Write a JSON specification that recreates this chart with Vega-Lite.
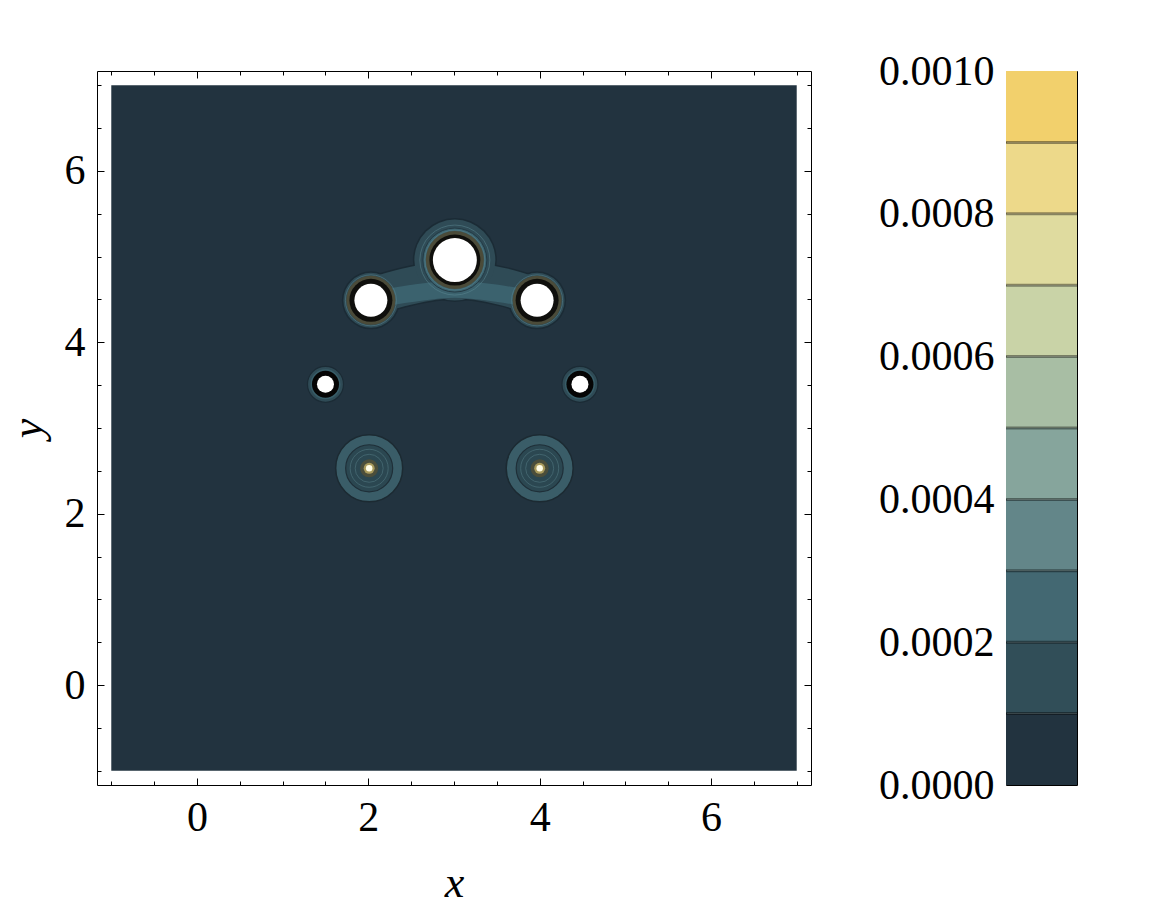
{
  "$schema": "https://vega.github.io/schema/vega-lite/v6.json",
  "background": "white",
  "padding": {"left": 5, "top": 49, "right": 10, "bottom": 5},
  "config": {
    "view": {"stroke": "black", "strokeWidth": 1},
    "font": "Liberation Serif",
    "axis": {
      "labelFont": "Liberation Serif", "labelFontSize": 42, "labelColor": "black",
      "titleFont": "Liberation Serif", "titleFontSize": 44, "titleFontStyle": "italic",
      "titleFontWeight": "normal", "titleColor": "black", "grid": false, "domain": false
    }
  },
  "datasets": {
    "bg": [{"x": -1, "x2": 7, "y": -1, "y2": 7}],
    "spots": [
      {"k": "center", "x": 3.01, "y": 4.96},
      {"k": "side", "x": 2.03, "y": 4.49},
      {"k": "side", "x": 3.97, "y": 4.49},
      {"k": "small", "x": 1.5, "y": 3.51},
      {"k": "small", "x": 4.47, "y": 3.51},
      {"k": "ring", "x": 2.01, "y": 2.53},
      {"k": "ring", "x": 4.0, "y": 2.53}
    ],
    "arch": [
      {"b": "outer", "x": 2.03, "y": 4.53},
      {"b": "outer", "x": 2.45, "y": 4.65},
      {"b": "outer", "x": 3.01, "y": 4.73},
      {"b": "outer", "x": 3.57, "y": 4.65},
      {"b": "outer", "x": 3.97, "y": 4.53},
      {"b": "inner", "x": 2.03, "y": 4.49},
      {"b": "inner", "x": 2.5, "y": 4.57},
      {"b": "inner", "x": 3.01, "y": 4.62},
      {"b": "inner", "x": 3.52, "y": 4.57},
      {"b": "inner", "x": 3.97, "y": 4.49}
    ],
    "bands": [
      {"lo": 0.0000, "hi": 0.0001},
      {"lo": 0.0001, "hi": 0.0002},
      {"lo": 0.0002, "hi": 0.0003},
      {"lo": 0.0003, "hi": 0.0004},
      {"lo": 0.0004, "hi": 0.0005},
      {"lo": 0.0005, "hi": 0.0006},
      {"lo": 0.0006, "hi": 0.0007},
      {"lo": 0.0007, "hi": 0.0008},
      {"lo": 0.0008, "hi": 0.0009},
      {"lo": 0.0009, "hi": 0.0010}
    ]
  },
  "spacing": 66,
  "hconcat": [
    {
      "width": 714,
      "height": 714,
      "resolve": {"axis": {"x": "independent", "y": "independent"}},
      "encoding": {
        "x": {"field": "x", "type": "quantitative", "scale": {"domain": [-1.1667, 7.1667], "nice": false, "zero": false}, "axis": null},
        "y": {"field": "y", "type": "quantitative", "scale": {"domain": [-1.1667, 7.1667], "nice": false, "zero": false}, "axis": null}
      },
      "layer": [
        {
          "data": {"name": "bg"},
          "mark": {"type": "rect", "fill": "#22333F"},
          "encoding": {
            "x": {"field": "x", "type": "quantitative", "scale": {"domain": [-1.1667, 7.1667], "nice": false, "zero": false},
              "axis": {"orient": "bottom", "values": [0, 2, 4, 6], "ticks": false, "labelPadding": 12, "title": "x", "titlePadding": 23, "zindex": 1}},
            "y": {"field": "y", "type": "quantitative", "scale": {"domain": [-1.1667, 7.1667], "nice": false, "zero": false},
              "axis": {"orient": "left", "values": [0, 2, 4, 6], "ticks": false, "labelPadding": 12, "title": "y", "titlePadding": 14, "zindex": 1}},
            "x2": {"field": "x2"},
            "y2": {"field": "y2"}
          }
        },
        {
          "data": {"name": "spots"},
          "transform": [{"filter": "datum.k == 'ring'"}],
          "mark": {"type": "circle", "size": 4489, "fill": "#3A5D68", "stroke": "#1C2A32", "strokeWidth": 1.5, "opacity": 1},
          "encoding": {
            "x": {"field": "x", "type": "quantitative", "scale": {"domain": [-1.1667, 7.1667], "nice": false, "zero": false},
              "axis": {"orient": "bottom", "values": [0, 2, 4, 6], "labels": false, "ticks": true, "tickSize": -7, "tickColor": "black", "title": null, "zindex": 1}},
            "y": {"field": "y", "type": "quantitative", "scale": {"domain": [-1.1667, 7.1667], "nice": false, "zero": false},
              "axis": {"orient": "left", "values": [0, 2, 4, 6], "labels": false, "ticks": true, "tickSize": -7, "tickColor": "black", "title": null, "zindex": 1}}
          }
        },
        {
          "data": {"name": "spots"},
          "transform": [{"filter": "datum.k == 'ring'"}],
          "mark": {"type": "circle", "size": 2209, "fill": "#2B4751", "stroke": "#1F2F38", "strokeWidth": 1.2, "opacity": 1},
          "encoding": {
            "x": {"field": "x", "type": "quantitative", "scale": {"domain": [-1.1667, 7.1667], "nice": false, "zero": false},
              "axis": {"orient": "bottom", "values": [-1, -0.5, 0.5, 1, 1.5, 2.5, 3, 3.5, 4.5, 5, 5.5, 6.5, 7], "labels": false, "ticks": true, "tickSize": -4, "tickColor": "black", "title": null, "zindex": 1}},
            "y": {"field": "y", "type": "quantitative", "scale": {"domain": [-1.1667, 7.1667], "nice": false, "zero": false},
              "axis": {"orient": "left", "values": [-1, -0.5, 0.5, 1, 1.5, 2.5, 3, 3.5, 4.5, 5, 5.5, 6.5, 7], "labels": false, "ticks": true, "tickSize": -4, "tickColor": "black", "title": null, "zindex": 1}}
          }
        },
        {
          "data": {"name": "spots"},
          "transform": [{"filter": "datum.k == 'ring'"}],
          "mark": {"type": "point", "filled": false, "size": 1444, "stroke": "#5B848D", "strokeWidth": 0.8, "opacity": 0.6},
          "encoding": {
            "x": {"field": "x", "type": "quantitative", "scale": {"domain": [-1.1667, 7.1667], "nice": false, "zero": false},
              "axis": {"orient": "top", "values": [0, 2, 4, 6], "labels": false, "ticks": true, "tickSize": -7, "tickColor": "black", "title": null, "zindex": 1}},
            "y": {"field": "y", "type": "quantitative", "scale": {"domain": [-1.1667, 7.1667], "nice": false, "zero": false},
              "axis": {"orient": "right", "values": [0, 2, 4, 6], "labels": false, "ticks": true, "tickSize": -7, "tickColor": "black", "title": null, "zindex": 1}}
          }
        },
        {
          "data": {"name": "spots"},
          "transform": [{"filter": "datum.k == 'ring'"}],
          "mark": {"type": "point", "filled": false, "size": 784, "stroke": "#5B848D", "strokeWidth": 0.8, "opacity": 0.6},
          "encoding": {
            "x": {"field": "x", "type": "quantitative", "scale": {"domain": [-1.1667, 7.1667], "nice": false, "zero": false},
              "axis": {"orient": "top", "values": [-1, -0.5, 0.5, 1, 1.5, 2.5, 3, 3.5, 4.5, 5, 5.5, 6.5, 7], "labels": false, "ticks": true, "tickSize": -4, "tickColor": "black", "title": null, "zindex": 1}},
            "y": {"field": "y", "type": "quantitative", "scale": {"domain": [-1.1667, 7.1667], "nice": false, "zero": false},
              "axis": {"orient": "right", "values": [-1, -0.5, 0.5, 1, 1.5, 2.5, 3, 3.5, 4.5, 5, 5.5, 6.5, 7], "labels": false, "ticks": true, "tickSize": -4, "tickColor": "black", "title": null, "zindex": 1}}
          }
        },
        {"data": {"name": "spots"}, "transform": [{"filter": "datum.k == 'ring'"}],
          "mark": {"type": "circle", "size": 324, "fill": "#4F4F38", "opacity": 0.9}},
        {"data": {"name": "spots"}, "transform": [{"filter": "datum.k == 'ring'"}],
          "mark": {"type": "circle", "size": 121, "fill": "#A89A5C", "opacity": 1}},
        {"data": {"name": "spots"}, "transform": [{"filter": "datum.k == 'ring'"}],
          "mark": {"type": "circle", "size": 42, "fill": "#FFFCE6", "opacity": 1}},
        {"data": {"name": "arch"}, "transform": [{"filter": "datum.b == 'outer'"}],
          "mark": {"type": "line", "color": "#1B2B35", "strokeWidth": 40, "strokeCap": "round", "strokeJoin": "round", "interpolate": "monotone"}},
        {"data": {"name": "spots"}, "transform": [{"filter": "datum.k == 'center'"}],
          "mark": {"type": "circle", "size": 7056, "fill": "#1B2B35", "opacity": 1}},
        {"data": {"name": "spots"}, "transform": [{"filter": "datum.k == 'side'"}],
          "mark": {"type": "circle", "size": 3364, "fill": "#1B2B35", "opacity": 1}},
        {"data": {"name": "arch"}, "transform": [{"filter": "datum.b == 'outer'"}],
          "mark": {"type": "line", "color": "#2F4B56", "strokeWidth": 37, "strokeCap": "round", "strokeJoin": "round", "interpolate": "monotone"}},
        {"data": {"name": "spots"}, "transform": [{"filter": "datum.k == 'center'"}],
          "mark": {"type": "circle", "size": 6561, "fill": "#2F4B56", "opacity": 1}},
        {"data": {"name": "spots"}, "transform": [{"filter": "datum.k == 'side'"}],
          "mark": {"type": "circle", "size": 3025, "fill": "#2F4B56", "opacity": 1}},
        {"data": {"name": "arch"}, "transform": [{"filter": "datum.b == 'inner'"}],
          "mark": {"type": "line", "color": "#3B626E", "strokeWidth": 17, "strokeCap": "round", "strokeJoin": "round", "interpolate": "monotone"}},
        {"data": {"name": "spots"}, "transform": [{"filter": "datum.k == 'center'"}],
          "mark": {"type": "circle", "size": 4096, "fill": "#3B626E", "stroke": "#243A44", "strokeWidth": 1, "opacity": 1}},
        {"data": {"name": "spots"}, "transform": [{"filter": "datum.k == 'side'"}],
          "mark": {"type": "circle", "size": 2209, "fill": "#3B626E", "opacity": 1}},
        {"data": {"name": "spots"}, "transform": [{"filter": "datum.k == 'center'"}],
          "mark": {"type": "point", "filled": false, "size": 4900, "stroke": "#5E8B95", "strokeWidth": 0.8, "opacity": 0.6}},
        {"data": {"name": "spots"}, "transform": [{"filter": "datum.k == 'center'"}],
          "mark": {"type": "point", "filled": false, "size": 3600, "stroke": "#5E8B95", "strokeWidth": 0.8, "opacity": 0.6}},
        {"data": {"name": "spots"}, "transform": [{"filter": "datum.k == 'side'"}],
          "mark": {"type": "point", "filled": false, "size": 2601, "stroke": "#5E8B95", "strokeWidth": 0.8, "opacity": 0.6}},
        {"data": {"name": "spots"}, "transform": [{"filter": "datum.k == 'small'"}],
          "mark": {"type": "circle", "size": 1296, "fill": "#2F4B56", "stroke": "#1B2B35", "strokeWidth": 1.2, "opacity": 1}},
        {"data": {"name": "spots"}, "transform": [{"filter": "datum.k == 'small'"}],
          "mark": {"type": "circle", "size": 900, "fill": "#385D68", "opacity": 1}},
        {"data": {"name": "spots"}, "transform": [{"filter": "datum.k == 'center'"}],
          "mark": {"type": "circle", "size": 3364, "fill": "#4B4B39", "opacity": 1}},
        {"data": {"name": "spots"}, "transform": [{"filter": "datum.k == 'side'"}],
          "mark": {"type": "circle", "size": 2401, "fill": "#4B4B39", "opacity": 1}},
        {"data": {"name": "spots"}, "transform": [{"filter": "datum.k == 'center'"}],
          "mark": {"type": "circle", "size": 2601, "fill": "#0F0F0C", "opacity": 1}},
        {"data": {"name": "spots"}, "transform": [{"filter": "datum.k == 'side'"}],
          "mark": {"type": "circle", "size": 1849, "fill": "#0F0F0C", "opacity": 1}},
        {"data": {"name": "spots"}, "transform": [{"filter": "datum.k == 'small'"}],
          "mark": {"type": "circle", "size": 729, "fill": "#050505", "opacity": 1}},
        {"data": {"name": "spots"}, "transform": [{"filter": "datum.k == 'center'"}],
          "mark": {"type": "circle", "size": 1936, "fill": "#FFFFFF", "opacity": 1}},
        {"data": {"name": "spots"}, "transform": [{"filter": "datum.k == 'side'"}],
          "mark": {"type": "circle", "size": 1089, "fill": "#FFFFFF", "opacity": 1}},
        {"data": {"name": "spots"}, "transform": [{"filter": "datum.k == 'small'"}],
          "mark": {"type": "circle", "size": 289, "fill": "#FFFFFF", "opacity": 1}}
      ]
    },
    {
      "width": 71,
      "height": 714,
      "data": {"name": "bands"},
      "layer": [
        {
          "mark": {"type": "rect"},
          "encoding": {
            "x": {"datum": 0, "type": "quantitative", "scale": {"domain": [0, 1], "nice": false}, "axis": null},
            "x2": {"datum": 1},
            "y": {"field": "lo", "type": "quantitative", "scale": {"domain": [0, 0.001], "nice": false, "zero": false},
              "axis": {"orient": "left", "values": [0, 0.0002, 0.0004, 0.0006, 0.0008, 0.001], "format": ".4f", "ticks": false, "domain": false, "title": null, "labelPadding": 12}},
            "y2": {"field": "hi"},
            "color": {"field": "lo", "type": "ordinal", "legend": null,
              "scale": {"range": ["#22333F", "#314E58", "#436872", "#638689", "#86A59C", "#A8BEA4", "#C9D3A7", "#DFDB9F", "#EDD98A", "#F2D06C"]}}
          }
        },
        {
          "transform": [{"filter": "datum.lo > 0"}],
          "mark": {"type": "rule", "color": "black", "opacity": 0.4, "strokeWidth": 3},
          "encoding": {"y": {"field": "lo", "type": "quantitative"}}
        }
      ]
    }
  ]
}
